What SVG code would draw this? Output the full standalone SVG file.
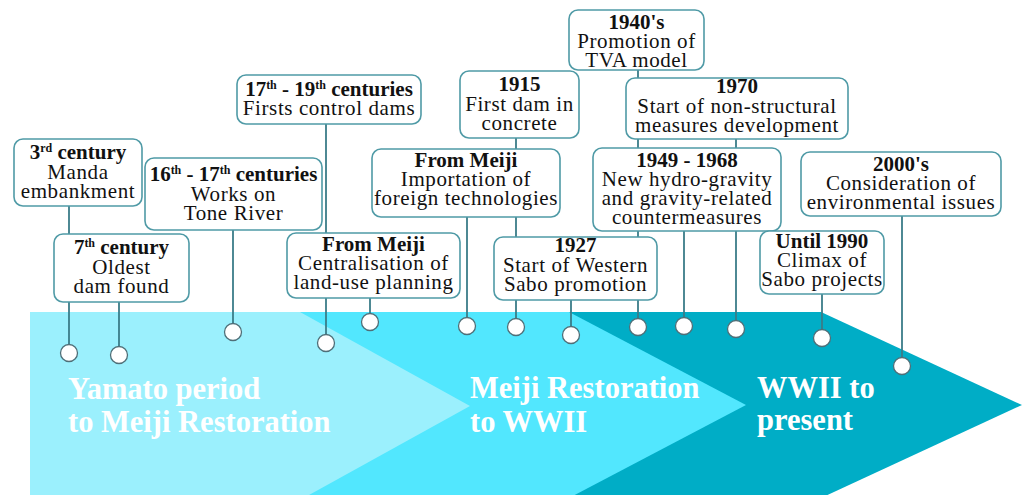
<svg xmlns="http://www.w3.org/2000/svg" width="1024" height="495" viewBox="0 0 1024 495">
<style>
.box{fill:#fff;stroke:#4f9aa6;stroke-width:1.6}
.t{font-family:"Liberation Serif","Times New Roman",serif;font-size:21px;fill:#111;text-anchor:middle;letter-spacing:0.6px}
.b{font-weight:bold;letter-spacing:0}
.sup{font-size:12px}
.lab{font-family:"Liberation Serif","Times New Roman",serif;font-size:30.5px;font-weight:bold;fill:#fff}
.ln{stroke:#3a7c88;stroke-width:1.8;fill:none}
.dot{fill:#fff;stroke:#4f6f78;stroke-width:1.3}
</style>
<rect width="1024" height="495" fill="#fff"/>
<g id="arrows">
<path d="M569,312 H821 L1022,405 L821,498 H569 Z" fill="#00adc6"/>
<path d="M300,312 H569 L746,405 L569,498 H300 Z" fill="#52e7fe"/>
<path d="M30,312 H300 L470,406 L300,500 H30 Z" fill="#9bf0fd"/>
<text class="lab" x="68" y="399">Yamato period</text>
<text class="lab" x="68" y="432">to Meiji Restoration</text>
<text class="lab" x="470" y="398">Meiji Restoration</text>
<text class="lab" x="470" y="432">to WWII</text>
<text class="lab" x="757" y="398">WWII to</text>
<text class="lab" x="757" y="430">present</text>
</g>
<g id="connectors">
<line class="ln" x1="69" y1="206" x2="69" y2="345"/>
<line class="ln" x1="119" y1="302" x2="119" y2="347"/>
<line class="ln" x1="233" y1="230" x2="233" y2="324"/>
<line class="ln" x1="326" y1="124" x2="326" y2="335"/>
<line class="ln" x1="370" y1="298" x2="370" y2="314"/>
<line class="ln" x1="467" y1="217" x2="467" y2="318"/>
<line class="ln" x1="516" y1="138" x2="516" y2="319"/>
<line class="ln" x1="571" y1="300" x2="571" y2="327"/>
<line class="ln" x1="638" y1="70" x2="638" y2="319"/>
<line class="ln" x1="684" y1="231" x2="684" y2="318"/>
<line class="ln" x1="736" y1="139" x2="736" y2="321"/>
<line class="ln" x1="822" y1="294" x2="822" y2="330"/>
<line class="ln" x1="902" y1="216" x2="902" y2="358"/>
<circle class="dot" cx="69" cy="353" r="8.5"/>
<circle class="dot" cx="119" cy="355" r="8.5"/>
<circle class="dot" cx="233" cy="332" r="8.5"/>
<circle class="dot" cx="326" cy="343" r="8.5"/>
<circle class="dot" cx="370" cy="322" r="8.5"/>
<circle class="dot" cx="467" cy="326" r="8.5"/>
<circle class="dot" cx="516" cy="327" r="8.5"/>
<circle class="dot" cx="571" cy="335" r="8.5"/>
<circle class="dot" cx="638" cy="327" r="8.5"/>
<circle class="dot" cx="684" cy="326" r="8.5"/>
<circle class="dot" cx="736" cy="329" r="8.5"/>
<circle class="dot" cx="822" cy="338" r="8.5"/>
<circle class="dot" cx="902" cy="366" r="8.5"/>
</g>
<g id="n1">
<rect class="box" x="14" y="139" width="128" height="67" rx="9"/>
<text class="t b" x="78" y="159">3<tspan class="sup" dy="-7">rd</tspan><tspan dy="7"> century</tspan></text>
<text class="t" x="78" y="179">Manda</text>
<text class="t" x="78" y="198">embankment</text>
</g>
<g id="n2">
<rect class="box" x="54" y="234" width="135" height="68" rx="9"/>
<text class="t b" x="121.5" y="254">7<tspan class="sup" dy="-7">th</tspan><tspan dy="7"> century</tspan></text>
<text class="t" x="121.5" y="273.5">Oldest</text>
<text class="t" x="121.5" y="293">dam found</text>
</g>
<g id="n3">
<rect class="box" x="145" y="158" width="177" height="72" rx="9"/>
<text class="t b" x="233.5" y="181">16<tspan class="sup" dy="-7">th</tspan><tspan dy="7"> - 17</tspan><tspan class="sup" dy="-7">th</tspan><tspan dy="7"> centuries</tspan></text>
<text class="t" x="233.5" y="201">Works on</text>
<text class="t" x="233.5" y="220">Tone River</text>
</g>
<g id="n4">
<rect class="box" x="237" y="75" width="184" height="49" rx="9"/>
<text class="t b" x="329" y="96">17<tspan class="sup" dy="-7">th</tspan><tspan dy="7"> - 19</tspan><tspan class="sup" dy="-7">th</tspan><tspan dy="7"> centuries</tspan></text>
<text class="t" x="329" y="115">Firsts control dams</text>
</g>
<g id="n5">
<rect class="box" x="287" y="233" width="173" height="65" rx="9"/>
<text class="t b" x="373.5" y="251">From Meiji</text>
<text class="t" x="373.5" y="270">Centralisation of</text>
<text class="t" x="373.5" y="289">land-use planning</text>
</g>
<g id="n6">
<rect class="box" x="372" y="149" width="188" height="68" rx="9"/>
<text class="t b" x="466" y="167">From Meiji</text>
<text class="t" x="466" y="186">Importation of</text>
<text class="t" x="466" y="205">foreign technologies</text>
</g>
<g id="n7">
<rect class="box" x="460" y="71" width="119" height="67" rx="9"/>
<text class="t b" x="519.5" y="91">1915</text>
<text class="t" x="519.5" y="110.5">First dam in</text>
<text class="t" x="519.5" y="130">concrete</text>
</g>
<g id="n8">
<rect class="box" x="569" y="10" width="135" height="60" rx="9"/>
<text class="t b" x="636.5" y="29">1940's</text>
<text class="t" x="636.5" y="48">Promotion of</text>
<text class="t" x="636.5" y="67">TVA model</text>
</g>
<g id="n9">
<rect class="box" x="626" y="78" width="222" height="61" rx="9"/>
<text class="t b" x="737" y="93">1970</text>
<text class="t" x="737" y="113">Start of non-structural</text>
<text class="t" x="737" y="132">measures development</text>
</g>
<g id="n10">
<rect class="box" x="593" y="148" width="188" height="83" rx="9"/>
<text class="t b" x="687" y="167">1949 - 1968</text>
<text class="t" x="687" y="186">New hydro-gravity</text>
<text class="t" x="687" y="205">and gravity-related</text>
<text class="t" x="687" y="224">countermeasures</text>
</g>
<g id="n11">
<rect class="box" x="494" y="237" width="163" height="63" rx="9"/>
<text class="t b" x="575.5" y="252">1927</text>
<text class="t" x="575.5" y="272">Start of Western</text>
<text class="t" x="575.5" y="291">Sabo promotion</text>
</g>
<g id="n12">
<rect class="box" x="760" y="231" width="124" height="63" rx="9"/>
<text class="t b" x="822" y="248">Until 1990</text>
<text class="t" x="822" y="267">Climax of</text>
<text class="t" x="822" y="286">Sabo projects</text>
</g>
<g id="n13">
<rect class="box" x="801" y="152" width="200" height="64" rx="9"/>
<text class="t b" x="901" y="171">2000's</text>
<text class="t" x="901" y="190">Consideration of</text>
<text class="t" x="901" y="209">environmental issues</text>
</g>
</svg>
